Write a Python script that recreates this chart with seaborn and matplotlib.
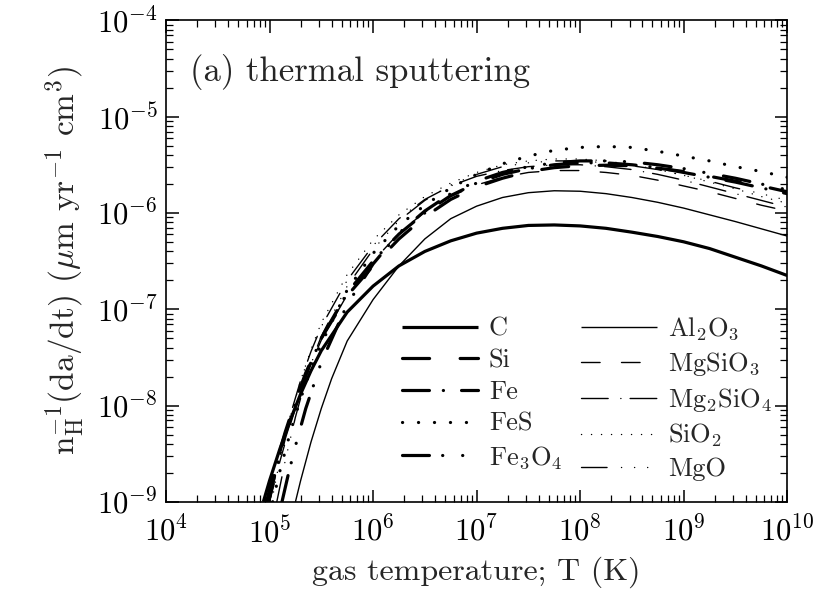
import numpy as np
import pandas as pd
import matplotlib
matplotlib.use("Agg")
import matplotlib.pyplot as plt
from matplotlib.ticker import LogLocator, NullFormatter
import seaborn as sns

# ---- data (log10 T [K], log10 rate [um yr^-1 cm^3]) ----
C_logT = [4.94, 5.0, 5.1, 5.2, 5.3, 5.4, 5.5, 5.75, 6.0, 6.25, 6.5, 6.75, 7.0, 7.25, 7.5, 7.75, 8.0, 8.25, 8.5, 8.75, 9.0, 9.25, 9.5, 9.75, 10.0]
C_logy = [-9.0, -8.78, -8.45, -8.15, -7.88, -7.64, -7.43, -7.03, -6.76, -6.55, -6.4, -6.29, -6.21, -6.16, -6.13, -6.125, -6.135, -6.16, -6.2, -6.245, -6.3, -6.37, -6.46, -6.55, -6.65]

Si_logT = [4.97, 5.05, 5.15, 5.25, 5.35, 5.5, 5.75, 6.0, 6.25, 6.5, 6.75, 7.0, 7.25, 7.5, 7.75, 8.0, 8.25, 8.5, 8.75, 9.0, 9.25, 9.5, 9.75, 10.0]
Si_logy = [-9.0, -8.66, -8.28, -7.95, -7.66, -7.3, -6.86, -6.55, -6.27, -6.04, -5.86, -5.73, -5.64, -5.57, -5.53, -5.51, -5.505, -5.51, -5.535, -5.57, -5.62, -5.67, -5.72, -5.78]

Fe_logT = [4.99, 5.05, 5.15, 5.25, 5.35, 5.5, 5.75, 6.0, 6.25, 6.5, 6.75, 7.0, 7.25, 7.5, 7.75, 8.0, 8.25, 8.5, 8.75, 9.0, 9.25, 9.5, 9.75, 10.0]
Fe_logy = [-9.0, -8.72, -8.32, -7.98, -7.68, -7.3, -6.83, -6.5, -6.22, -6.0, -5.82, -5.69, -5.6, -5.54, -5.5, -5.48, -5.48, -5.5, -5.53, -5.58, -5.63, -5.68, -5.74, -5.8]

FeS_logT = [5.03, 5.1, 5.2, 5.3, 5.4, 5.5, 5.75, 6.0, 6.25, 6.5, 6.75, 7.0, 7.25, 7.5, 7.75, 8.0, 8.25, 8.5, 8.75, 9.0, 9.25, 9.5, 9.75, 10.0]
FeS_logy = [-9.0, -8.68, -8.28, -7.93, -7.62, -7.36, -6.8, -6.42, -6.13, -5.92, -5.74, -5.6, -5.49, -5.41, -5.35, -5.32, -5.31, -5.32, -5.36, -5.41, -5.46, -5.52, -5.57, -5.63]

Fe3O4_logT = [5.12, 5.18, 5.25, 5.35, 5.5, 5.75, 6.0, 6.25, 6.5, 6.75, 7.0, 7.25, 7.5, 7.75, 8.0, 8.25, 8.5, 8.75, 9.0, 9.25, 9.5, 9.75, 10.0]
Fe3O4_logy = [-9.0, -8.72, -8.42, -8.03, -7.55, -6.95, -6.53, -6.21, -5.98, -5.8, -5.67, -5.58, -5.52, -5.48, -5.46, -5.46, -5.47, -5.5, -5.54, -5.59, -5.64, -5.7, -5.76]

Al2O3_logT = [5.25, 5.3, 5.4, 5.5, 5.6, 5.75, 6.0, 6.25, 6.5, 6.75, 7.0, 7.25, 7.5, 7.75, 8.0, 8.25, 8.5, 8.75, 9.0, 9.25, 9.5, 9.75, 10.0]
Al2O3_logy = [-9.0, -8.78, -8.38, -8.03, -7.72, -7.33, -6.9, -6.55, -6.27, -6.06, -5.93, -5.84, -5.79, -5.77, -5.775, -5.8, -5.84, -5.89, -5.95, -6.02, -6.09, -6.165, -6.24]

MgSiO3_logT = [5.0, 5.1, 5.2, 5.3, 5.4, 5.5, 5.75, 6.0, 6.25, 6.5, 6.75, 7.0, 7.25, 7.5, 7.75, 8.0, 8.25, 8.5, 8.75, 9.0, 9.25, 9.5, 9.75, 10.0]
MgSiO3_logy = [-9.0, -8.58, -8.2, -7.86, -7.57, -7.32, -6.85, -6.5, -6.21, -5.99, -5.83, -5.71, -5.63, -5.58, -5.56, -5.56, -5.58, -5.61, -5.66, -5.72, -5.78, -5.85, -5.92, -5.98]

Mg2SiO4_logT = [5.0, 5.1, 5.2, 5.3, 5.4, 5.5, 5.75, 6.0, 6.25, 6.5, 6.75, 7.0, 7.25, 7.5, 7.75, 8.0, 8.25, 8.5, 8.75, 9.0, 9.25, 9.5, 9.75, 10.0]
Mg2SiO4_logy = [-9.0, -8.52, -8.1, -7.74, -7.44, -7.18, -6.7, -6.34, -6.06, -5.86, -5.72, -5.62, -5.56, -5.52, -5.5, -5.5, -5.52, -5.55, -5.6, -5.66, -5.73, -5.8, -5.87, -5.94]

SiO2_logT = [5.02, 5.1, 5.2, 5.3, 5.4, 5.5, 5.75, 6.0, 6.25, 6.5, 6.75, 7.0, 7.25, 7.5, 7.75, 8.0, 8.25, 8.5, 8.75, 9.0, 9.25, 9.5, 9.75, 10.0]
SiO2_logy = [-9.0, -8.56, -8.12, -7.74, -7.42, -7.14, -6.64, -6.28, -6.02, -5.83, -5.69, -5.58, -5.5, -5.46, -5.44, -5.44, -5.46, -5.5, -5.55, -5.61, -5.68, -5.75, -5.83, -5.9]

MgO_logT = [5.07, 5.15, 5.25, 5.35, 5.45, 5.5, 5.75, 6.0, 6.25, 6.5, 6.75, 7.0, 7.25, 7.5, 7.75, 8.0, 8.25, 8.5, 8.75, 9.0, 9.25, 9.5, 9.75, 10.0]
MgO_logy = [-9.0, -8.58, -8.12, -7.73, -7.42, -7.28, -6.76, -6.38, -6.08, -5.87, -5.71, -5.6, -5.52, -5.48, -5.46, -5.46, -5.48, -5.51, -5.55, -5.61, -5.67, -5.74, -5.8, -5.87]

labels = ["C", "Si", "Fe", "FeS", r"Fe$_3$O$_4$",
          r"Al$_2$O$_3$", r"MgSiO$_3$", r"Mg$_2$SiO$_4$", r"SiO$_2$", "MgO"]

# ---- style ----
sns.set_style("ticks")
plt.rcParams.update({
    "font.family": ["cmr10", "DejaVu Serif"],
    "mathtext.fontset": "cm",
    "axes.formatter.use_mathtext": True,
    "axes.unicode_minus": False,
    "lines.scale_dashes": False,
    "axes.linewidth": 1.2,
    "axes.edgecolor": "black",
    "xtick.color": "black",
    "ytick.color": "black",
})

series = [
    (C_logT, C_logy, 2.3, None),
    (Si_logT, Si_logy, 2.3, (19.5, 22.0)),
    (Fe_logT, Fe_logy, 2.3, (19.4, 10.0, 0.1, 13.0)),
    (FeS_logT, FeS_logy, 2.3, (0.1, 11.4)),
    (Fe3O4_logT, Fe3O4_logy, 2.3, (19.4, 9.5, 0.1, 14.3, 0.1, 14.3)),
    (Al2O3_logT, Al2O3_logy, 1.0, None),
    (MgSiO3_logT, MgSiO3_logy, 1.0, (13.4, 15.4)),
    (Mg2SiO4_logT, Mg2SiO4_logy, 1.0, (19.2, 9.1, 0.1, 6.6)),
    (SiO2_logT, SiO2_logy, 1.0, (0.1, 7.1)),
    (MgO_logT, MgO_logy, 1.0, (18.4, 10.4, 0.1, 9.3, 0.1, 9.3, 0.1, 10.3)),
]

fig = plt.figure(figsize=(8.26, 6.15), dpi=100)
ax = fig.add_axes([0.201, 0.184, 0.752, 0.783])

handles = []
for (lt, ly, lw, dash), lab in zip(series, labels):
    df = pd.DataFrame({"T": np.power(10.0, lt), "rate": np.power(10.0, ly)})
    n0 = len(ax.lines)
    sns.lineplot(data=df, x="T", y="rate", ax=ax, color="black", linewidth=lw,
                 estimator=None, sort=False, label=lab, legend=False)
    line = ax.lines[n0]
    line.set_solid_capstyle("butt")
    if dash is not None:
        line.set_dashes(dash)
        line.set_dash_capstyle("round")
    handles.append(line)

ax.set_xscale("log")
ax.set_yscale("log")
ax.set_xlim(1e4, 1e10)
ax.set_ylim(1e-9, 1e-4)

ax.xaxis.set_major_locator(LogLocator(base=10, numticks=20))
ax.yaxis.set_major_locator(LogLocator(base=10, numticks=20))
ax.xaxis.set_minor_locator(LogLocator(base=10, subs=np.arange(2, 10), numticks=100))
ax.yaxis.set_minor_locator(LogLocator(base=10, subs=np.arange(2, 10), numticks=100))
ax.xaxis.set_minor_formatter(NullFormatter())
ax.yaxis.set_minor_formatter(NullFormatter())

ax.tick_params(which="both", direction="in", top=True, right=True, labelsize=22)
ax.tick_params(which="major", length=9, width=1.1)
ax.tick_params(axis="x", which="major", pad=10)
ax.tick_params(axis="y", which="major", pad=6)
ax.tick_params(which="minor", length=5, width=0.9)

ax.set_xlabel("gas temperature; T (K)", fontsize=23, labelpad=6)
ax.set_ylabel(r"n$_{\rm H}^{-1}$(da/dt) ($\mu$m yr$^{-1}$ cm$^3$)", fontsize=24, labelpad=8)

ax.text(0.038, 0.892, "(a) thermal sputtering", transform=ax.transAxes,
        fontsize=25, va="center", ha="left")

leg = ax.legend(handles=handles, labels=labels, ncol=2, frameon=False,
                loc="lower right", bbox_to_anchor=(0.975, 0.043), fontsize=19,
                handlelength=2.9, handletextpad=0.4, columnspacing=0.7,
                labelspacing=0.3, borderpad=0.0, borderaxespad=0.0)

fig.savefig("out.png", dpi=100)
